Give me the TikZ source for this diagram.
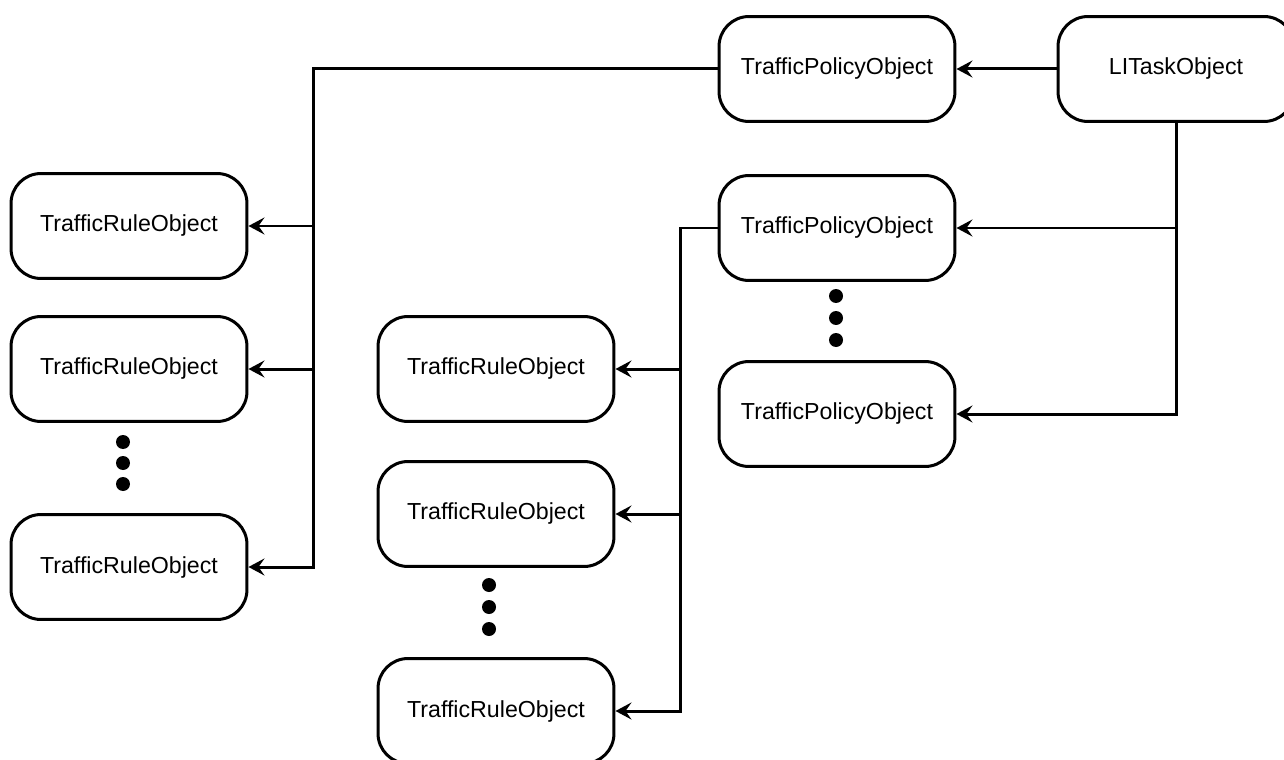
\documentclass[tikz,border=0pt]{standalone}
\usepackage{fontspec}
\setmainfont{Liberation Sans}
\usetikzlibrary{arrows.meta, positioning}

\begin{document}
\begin{tikzpicture}[
      x=0.02cm,
      y=-0.02cm,
      obj/.style={
          rectangle,
          draw,
          line width=0.06cm,
          rounded corners=0.6cm,
          align=center,
          minimum width=4.72cm,
          minimum height=2.1cm,
          font=\fontsize{13.2}{16}\selectfont
        },
      dot/.style={
          circle,
          fill,
          inner sep=0pt,
          minimum size=0.28cm
        },
      arrow/.style={
          -{Stealth[length=0.32cm, width=0.34cm, inset=0.12cm]},
          line width=0.06cm
        }
    ]
    \clip (0,0) rectangle (1284,760);

    % Nodes
    \node[obj] (task) at (1176,69) {LITaskObject};
    \node[obj] (policyA) at (837,69) {TrafficPolicyObject};
    \node[obj] (policyB) at (837,228) {TrafficPolicyObject};
    \node[obj] (policyC) at (837,414) {TrafficPolicyObject};
    \node[obj] (ruleA) at (129,226) {TrafficRuleObject};
    \node[obj] (ruleB) at (129,369) {TrafficRuleObject};
    \node[obj] (ruleC) at (129,567) {TrafficRuleObject};
    \node[obj] (ruleD) at (496,369) {TrafficRuleObject};
    \node[obj] (ruleE) at (496,514) {TrafficRuleObject};
    \node[obj] (ruleF) at (496,711) {TrafficRuleObject};

    % Dots
    \foreach \y in {296,318,340}
      \node[dot] (pdot\y) at (836,\y) {};
    \foreach \y in {442,463,484}
      \node[dot] (ldot\y) at (123,\y) {};
    \foreach \y in {585,607,629}
      \node[dot] (mdot\y) at (489,\y) {};

    % Trunks
    \coordinate (ltrunk) at (313,0);
    \coordinate (mtrunk) at (680,0);

    % Arrows
    \draw[arrow] (task) -- (policyA);
    \draw[arrow] (task.south) |- (policyC);
    \draw[arrow] (task.south |- policyB) -- (policyB);
    \draw[arrow] (policyA.west) -| (ltrunk |- ruleC) -- (ruleC);
    \draw[arrow] (ltrunk |- ruleA) -- (ruleA);
    \draw[arrow] (ltrunk |- ruleB) -- (ruleB);
    \draw[arrow] (policyB.west) -| (mtrunk |- ruleF) -- (ruleF);
    \draw[arrow] (mtrunk |- ruleD) -- (ruleD);
    \draw[arrow] (mtrunk |- ruleE) -- (ruleE);
  \end{tikzpicture}
\end{document}
